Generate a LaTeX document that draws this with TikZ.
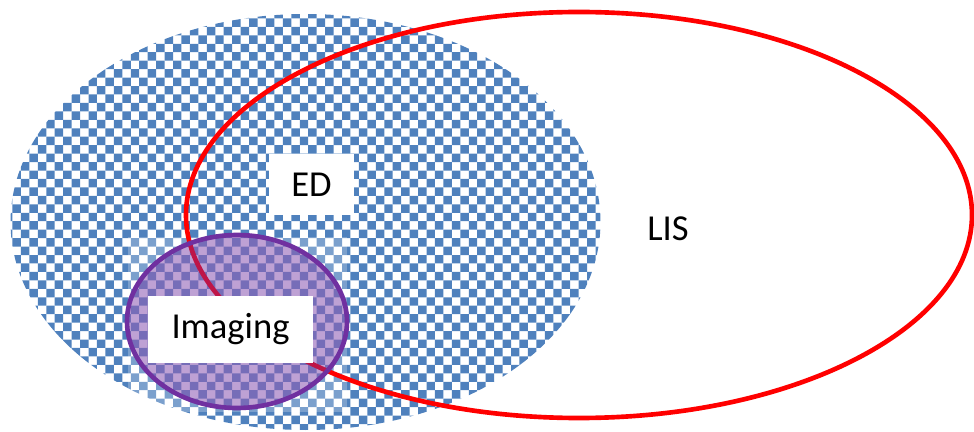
\documentclass[tikz,border=0pt]{standalone}
\usepackage{fontspec}
\setmainfont{Carlito}
\definecolor{edblue}{HTML}{4F81BD}
\definecolor{lisred}{HTML}{FF0000}
\definecolor{imgpurple}{HTML}{7030A0}
\tikzset{
  labelbox/.style = {fill = white, inner sep = 0pt, font = \fontsize{26}{30}\selectfont},
  ring/.style = {line width = 3.3pt}
}
\begin{document}
\begin{tikzpicture}[x = 0.025cm, y = -0.025cm]
\useasboundingbox (0,0) rectangle (974,432);
\coordinate (ed) at (305.5,222);
\coordinate (lis) at (579,215);
\coordinate (img) at (237,321.5);
% checkered ED area
\begin{scope}
\clip (ed) ellipse [x radius = 295, y radius = 208];
\foreach \j [evaluate = \j as \off using {mod(\j,2)*8.45}] in {0,...,51}{
\fill [edblue] \foreach \i in {0,...,36}{
({4+2*\i*8.45+\off},{10+\j*8.45}) rectangle ++(8.45,8.45)
};
}
\end{scope}
\fill [white, opacity = 0.25] (128,237) rectangle (347,412);
% LIS ring
\draw [ring, lisred] (lis) ellipse [x radius = 393, y radius = 203];
% Imaging ring
\fill [imgpurple, opacity = 0.45] (img) ellipse [x radius = 110, y radius = 86.5];
\draw [ring, imgpurple] (img) ellipse [x radius = 110, y radius = 86.5];
% labels
\node [labelbox, minimum width = 2.125cm, minimum height = 1.525cm] (edlabel) at (311.5,184.5) {ED};
\node [labelbox, minimum width = 4.125cm, minimum height = 1.675cm] (imglabel) at (230.5,329.5) {Imaging};
\node [font = \fontsize{26}{30}\selectfont] (lislabel) at (668,229) {LIS};
\end{tikzpicture}
\end{document}
